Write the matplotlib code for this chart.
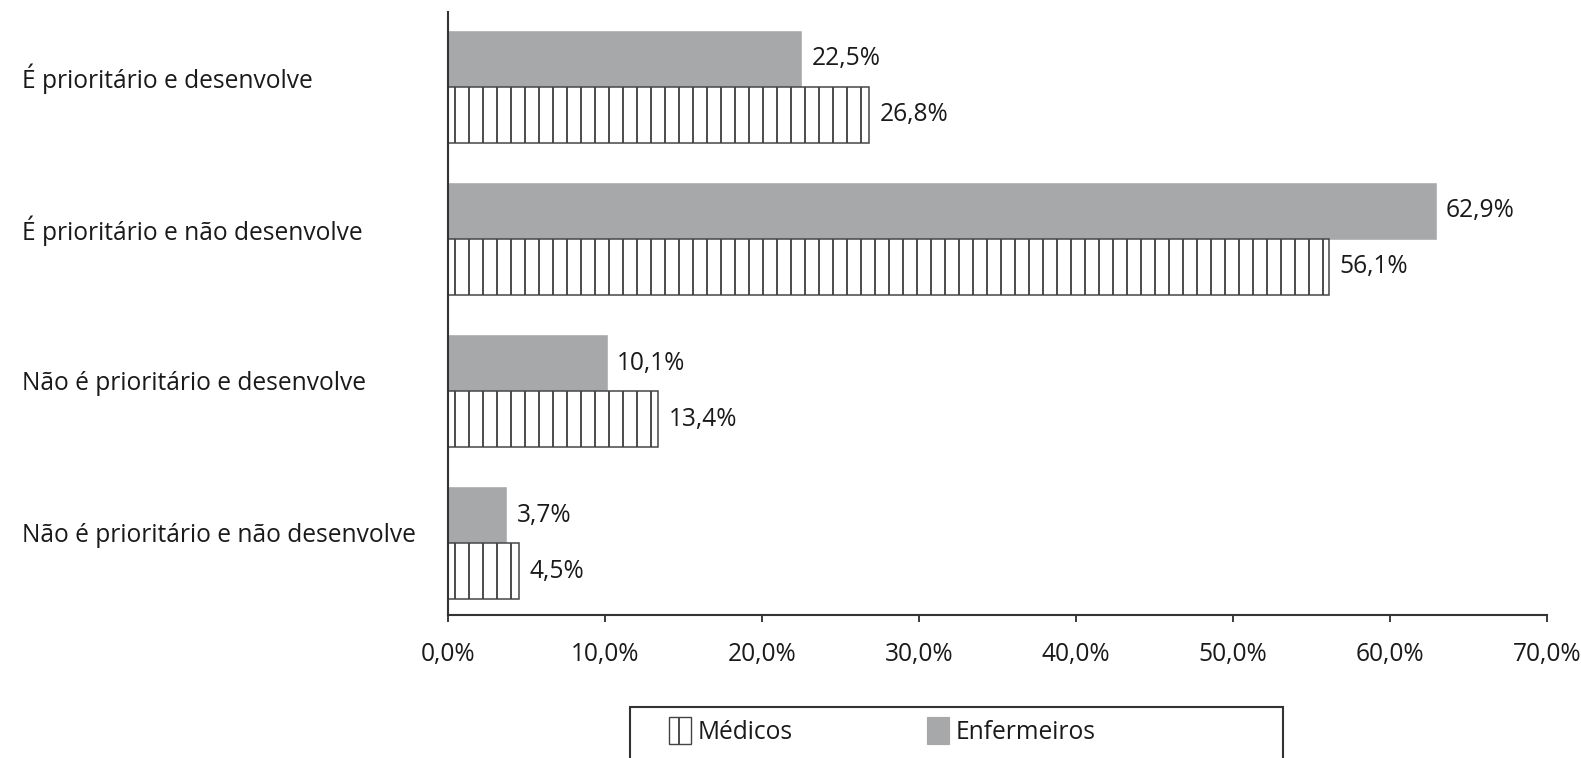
import matplotlib
matplotlib.use('Agg')
import matplotlib.pyplot as plt
from matplotlib.patches import Rectangle, Patch
from matplotlib.ticker import FuncFormatter
import numpy as np

categories = ['É prioritário e desenvolve', 'É prioritário e não desenvolve',
              'Não é prioritário e desenvolve', 'Não é prioritário e não desenvolve']
enfermeiros = [22.5, 62.9, 10.1, 3.7]
medicos = [26.8, 56.1, 13.4, 4.5]
x_ticks = [0, 10, 20, 30, 40, 50, 60, 70]

DPI = 84
W, H = 1581, 758
plt.rcParams['font.family'] = ['Open Sans', 'DejaVu Sans']
plt.rcParams['hatch.linewidth'] = 1.6

fig = plt.figure(figsize=(W / DPI + 1e-4, H / DPI + 1e-4), dpi=DPI)
ax = fig.add_axes([448 / W, 1 - 615 / H, (1547 - 448) / W, (615 - 12) / H])

y = np.arange(len(categories))
h = 0.368
gray = '#a7a8aa'
dark = '#444444'

b_enf = ax.barh(y - h / 2, enfermeiros, h, color=gray, edgecolor=gray, linewidth=0.5)
b_med = ax.barh(y + h / 2, medicos, h, color='white', edgecolor=dark, hatch='|', linewidth=1.3)

fmt = lambda v: f'{v:.1f}%'.replace('.', ',')
fs = 21
ax.bar_label(b_enf, labels=[fmt(v) for v in enfermeiros], padding=9, fontsize=fs, color='#1a1a1a')
ax.bar_label(b_med, labels=[fmt(v) for v in medicos], padding=9, fontsize=fs, color='#1a1a1a')

ax.set_xlim(0, 70)
ax.set_ylim(3.47, -0.49)
ax.set_xticks(x_ticks)
ax.xaxis.set_major_formatter(FuncFormatter(lambda v, p: fmt(v)))
ax.tick_params(axis='x', length=6, width=1.6, color='#333', labelsize=fs, pad=17, labelcolor='#1a1a1a')

# category labels sit a little above the middle of each pair of bars
ax.set_yticks(y - 0.07)
ax.set_yticklabels(categories, fontsize=fs, color='#1a1a1a')
ax.tick_params(axis='y', length=0, pad=(448 - 22) * 72 / DPI)
for lab in ax.get_yticklabels():
    lab.set_ha('left')

for s in ['top', 'right']:
    ax.spines[s].set_visible(False)
for s in ['left', 'bottom']:
    ax.spines[s].set_linewidth(1.8)
    ax.spines[s].set_color('#333')

# legend box (bottom part runs off the page, as in the original)
fig.patches.append(Rectangle((630 / W, -0.1), (1283 - 630) / W, (758 - 707) / H + 0.1,
                             transform=fig.transFigure, fill=False, ec='#333', lw=1.8))
handles = [Patch(facecolor='white', edgecolor=dark, hatch='|', linewidth=1.2),
           Patch(facecolor=gray, edgecolor=gray)]
fig.legend(handles, ['Médicos', 'Enfermeiros'], ncol=2, frameon=False,
           loc='center left', bbox_to_anchor=(657 / W, 1 - 731 / H),
           fontsize=fs, handlelength=0.9, handleheight=1.3, handletextpad=0.25,
           columnspacing=5.5, labelcolor='#1a1a1a', borderpad=0)

fig.savefig('out.png', dpi=DPI)
